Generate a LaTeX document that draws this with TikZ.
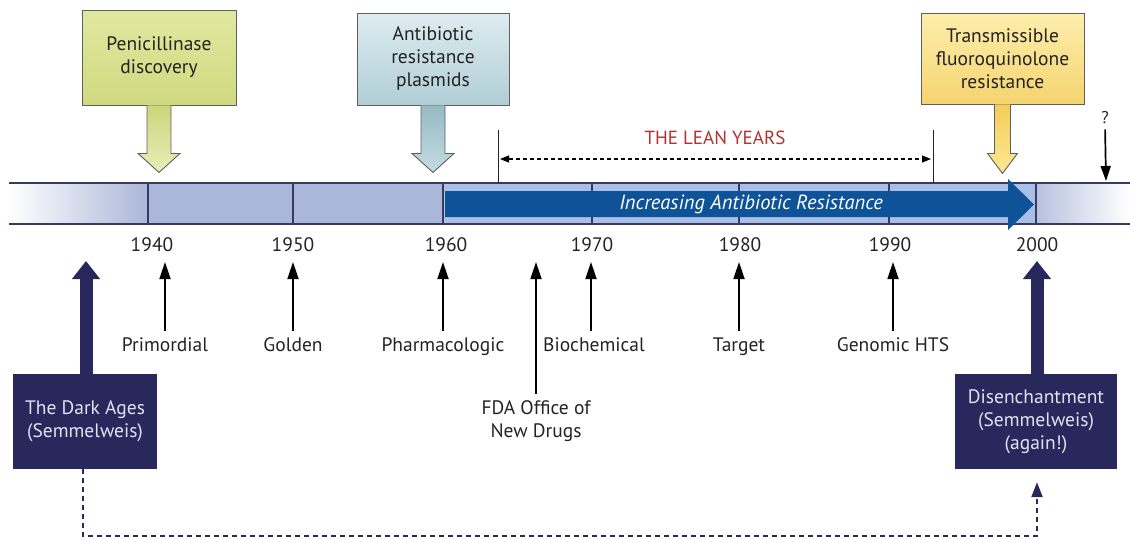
\documentclass[tikz,border=0pt]{standalone}
\usepackage{fontspec}
\setmainfont{PT Sans}
\usetikzlibrary{arrows.meta,calc}

\definecolor{navy}{RGB}{40,40,92}
\definecolor{navytext}{RGB}{226,226,242}
\definecolor{barline}{RGB}{55,60,92}
\definecolor{barfill}{RGB}{170,183,216}
\definecolor{stripfill}{RGB}{170,191,232}
\definecolor{resblue}{RGB}{14,82,152}
\definecolor{edgegray}{RGB}{95,95,95}
\definecolor{inkgray}{RGB}{35,35,35}
\definecolor{leanred}{RGB}{178,50,50}
\definecolor{pentop}{RGB}{226,232,160}
\definecolor{penbot}{RGB}{208,217,128}
\definecolor{penarrowtop}{RGB}{202,214,122}
\definecolor{penarrowbot}{RGB}{232,238,185}
\definecolor{plastop}{RGB}{222,236,240}
\definecolor{plasbot}{RGB}{176,206,214}
\definecolor{plasarrowtop}{RGB}{150,186,196}
\definecolor{plasarrowbot}{RGB}{196,220,226}
\definecolor{fqtop}{RGB}{253,238,172}
\definecolor{fqbot}{RGB}{245,212,112}
\definecolor{fqarrowtop}{RGB}{244,204,88}
\definecolor{fqarrowbot}{RGB}{251,232,150}

\begin{document}
\begin{tikzpicture}[x=1pt,y=-1pt,
  every node/.style={font=\fontsize{19.5}{23}\selectfont},
  callout/.style={draw=edgegray, line width=0.9pt, align=center, inner sep=0pt, text=inkgray},
  calloutarrow/.style={draw=edgegray, line width=0.9pt, line join=miter},
  darkbox/.style={fill=navy, text=navytext, align=center, inner sep=0pt},
  yearlbl/.style={text=inkgray, inner sep=0pt},
  eralbl/.style={text=inkgray, inner sep=0pt, align=center},
  onelinelbl/.style={eralbl, text height=13.5pt, text depth=4.5pt},
  uparrow/.style={draw=black, line width=1.8pt, shorten <=7pt, -{Triangle[width=11pt,length=17pt]}},
  bigarrow/.style={draw=navy, line width=13pt, -{Triangle[width=27pt,length=18pt]}},
  divider/.style={draw=barline, line width=1.4pt},
  leanline/.style={draw=inkgray, line width=0.8pt},
  leanarrow/.style={draw=black, line width=1.1pt, dash pattern=on 4pt off 3pt, {Triangle[width=7pt,length=9pt]}-{Triangle[width=7pt,length=9pt]}},
  revisit/.style={draw=navy, line width=2.2pt, dash pattern=on 5pt off 4pt, -{Triangle[width=11pt,length=15pt]}}
]
\useasboundingbox (0,0) rectangle (1130,539);

% ---------- timeline bar ----------
\fill[left color=white, right color=barfill] (9,183) rectangle (148,224);
\fill[barfill] (148,183) rectangle (443,224);
\fill[stripfill] (443,183) rectangle (1036,224);
\fill[left color=barfill!85!white, right color=white] (1036,183) rectangle (1130,224);
\draw[barline, line width=2pt] (9,183) -- (1130,183);
\draw[barline, line width=2pt] (9,224) -- (1130,224);
\foreach \x in {148,293,443,592,739,889,1036}
  \draw[divider] (\x,183) -- (\x,224);

% resistance arrow across the bar
\fill[resblue] (445,191) -- (1008,191) -- (1008,179) -- (1034,204.5)
  -- (1008,230) -- (1008,217) -- (445,217) -- cycle;
\node[text=white, font=\fontsize{20.5}{24}\selectfont\itshape] (incr) at (751,204) {Increasing Antibiotic Resistance};

% ---------- years ----------
\node[yearlbl] (y1940) at (152,245) {1940};
\node[yearlbl] (y1950) at (293,245) {1950};
\node[yearlbl] (y1960) at (446,245) {1960};
\node[yearlbl] (y1970) at (592,245) {1970};
\node[yearlbl] (y1980) at (740,245) {1980};
\node[yearlbl] (y1990) at (890,245) {1990};
\node[yearlbl] (y2000) at (1037,245) {2000};

% ---------- callouts above the bar ----------
\node[callout, top color=pentop, bottom color=penbot, minimum width=154pt, minimum height=95pt]
  (pen) at (159,57.5) {Penicillinase\\discovery};
\draw[calloutarrow, top color=penarrowtop, bottom color=penarrowbot]
  ([xshift=-12pt]pen.south) -- ++(0,48) -- ++(-9,0) -- ++(21,19) -- ++(21,-19) -- ++(-9,0) -- ++(0,-48);

\node[callout, top color=plastop, bottom color=plasbot, minimum width=152pt, minimum height=92pt]
  (plas) at (433,59) {Antibiotic\\resistance\\plasmids};
\draw[calloutarrow, top color=plasarrowtop, bottom color=plasarrowbot]
  ([xshift=-12pt]plas.south) -- ++(0,48) -- ++(-9,0) -- ++(21,19) -- ++(21,-19) -- ++(-9,0) -- ++(0,-48);

\node[callout, top color=fqtop, bottom color=fqbot, minimum width=163pt, minimum height=91pt]
  (fq) at (1002.5,58.5) {Transmissible\\fluoroquinolone\\resistance};
\draw[calloutarrow, top color=fqarrowtop, bottom color=fqarrowbot]
  ([xshift=-8pt]fq.south) -- ++(0,49) -- ++(-7,0) -- ++(15,20) -- ++(15,-20) -- ++(-7,0) -- ++(0,-49);

% ---------- the lean years ----------
\coordinate (leanLtop) at (498,130);
\coordinate (leanLbot) at (498,183);
\coordinate (leanRtop) at (933,130);
\coordinate (leanRbot) at (933,183);
\draw[leanline] (leanLtop) -- (leanLbot);
\draw[leanline] (leanRtop) -- (leanRbot);
\coordinate (leanA) at (500,159);
\coordinate (leanB) at (931,159);
\draw[leanarrow] (leanA) -- (leanB);
\node[text=leanred, font=\fontsize{19}{22}\selectfont] (lean) at (715,138) {THE LEAN YEARS};

% ---------- future ----------
\node[text=inkgray, inner sep=0pt, font=\fontsize{17}{20}\selectfont] (q) at (1105,118) {?};
\coordinate (qtip) at (1106,181);
\draw[draw=black, line width=1.7pt, shorten <=5pt, -{Triangle[width=10pt,length=15pt]}] (q.south) -- (qtip);

% ---------- eras below the bar ----------
\node[onelinelbl] (prim) at (165,347) {Primordial};
\node[onelinelbl] (gold) at (293,347) {Golden};
\node[onelinelbl] (pharm) at (443,347) {Pharmacologic};
\node[onelinelbl] (bioch) at (594,347) {Biochemical};
\node[onelinelbl] (targ) at (739,347) {Target};
\node[onelinelbl] (genom) at (893,347) {Genomic HTS};
\node[eralbl] (fda) at (536,421.5) {FDA Office of\\New Drugs};

\coordinate (tprim) at (165,262);
\coordinate (tgold) at (293,262);
\coordinate (tpharm) at (443,262);
\coordinate (tbioch) at (591,262);
\coordinate (ttarg) at (739,262);
\coordinate (tgenom) at (893,262);
\coordinate (tfda) at (536,262);

\draw[uparrow] (prim.north -| tprim) -- (tprim);
\draw[uparrow] (gold.north -| tgold) -- (tgold);
\draw[uparrow] (pharm.north -| tpharm) -- (tpharm);
\draw[uparrow] (bioch.north -| tbioch) -- (tbioch);
\draw[uparrow] (targ.north -| ttarg) -- (ttarg);
\draw[uparrow] (genom.north -| tgenom) -- (tgenom);
\draw[uparrow] (fda.north -| tfda) -- (tfda);

% ---------- dark ages and disenchantment ----------
\node[darkbox, minimum width=144pt, minimum height=95pt] (dark) at (85,421.5)
  {The Dark Ages\\(Semmelweis)};
\node[darkbox, minimum width=162pt, minimum height=95pt] (disen) at (1036,421.5)
  {Disenchantment\\(Semmelweis)\\(again!)};

\coordinate (tdark) at (86,261);
\coordinate (tdisen) at (1037,261);
\draw[bigarrow] (dark.north -| tdark) -- (tdark);
\draw[bigarrow] (disen.north -| tdisen) -- (tdisen);

\draw[revisit] ([xshift=-2pt]dark.south) -- ++(0,67) -| ([xshift=1pt,yshift=-13pt]disen.south);

\end{tikzpicture}
\end{document}
